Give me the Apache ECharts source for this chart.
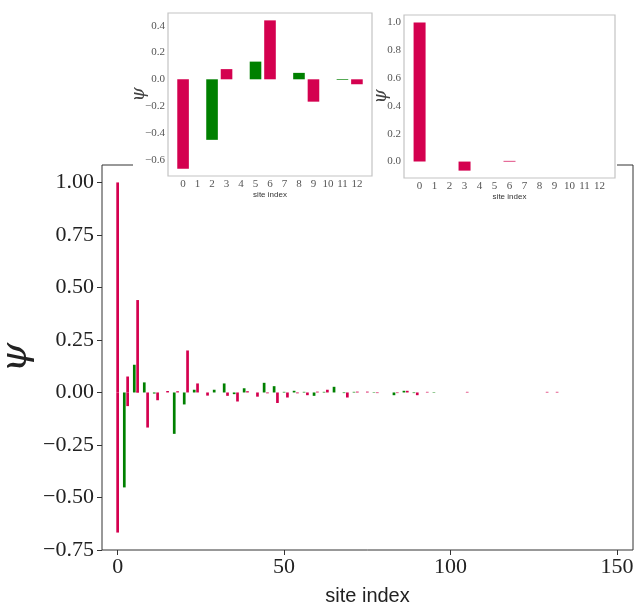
<!DOCTYPE html>
<html>
<head>
<meta charset="utf-8">
<script src="https://cdn.jsdelivr.net/npm/echarts@6/dist/echarts.min.js"></script>
<style>
  html, body { margin: 0; padding: 0; background: #fff; }
  #chart { width: 636px; height: 603px; }
</style>
</head>
<body>
<div id="chart"></div>
<script>
// state A: amplitude on each site (sites 1 mod 3 are zero)
const sitesA = [0, 2, 3, 5, 6, 8, 9, 11, 12, 15, 17, 18, 20, 21, 23, 24, 27, 29, 32, 33, 35, 36, 38, 39,
  42, 44, 45, 47, 48, 50, 51, 53, 54, 56, 57, 59, 60, 62, 63, 65, 68, 69, 71, 72, 75, 77, 78,
  83, 84, 86, 87, 89, 90, 93, 95, 105, 129, 132]
const psiA = [-0.667, -0.452, 0.076, 0.132, 0.44, 0.048, -0.167, -0.005, -0.037, 0.007, -0.197, 0.006, -0.057, 0.2, 0.013, 0.043, -0.015, 0.013, 0.043, -0.016, -0.008, -0.043, 0.02, 0.006,
  -0.02, 0.046, -0.004, 0.03, -0.05, 0.003, -0.024, 0.008, -0.004, 0.003, -0.013, -0.016, 0.004, 0.003, 0.013, 0.027, -0.003, -0.024, 0.003, 0.004, 0.004, 0.002, -0.003,
  -0.013, -0.003, 0.008, 0.008, -0.003, -0.013, 0.003, -0.002, 0.003, 0.003, 0.003]

// state B
const sitesB = [0, 3, 6]
const psiB = [1.0, -0.065, 0.005]

const mainXTicks = [0, 50, 100, 150]
const mainYTicks = [-0.75, -0.5, -0.25, 0, 0.25, 0.5, 0.75, 1.0]
const insetSites = [0, 1, 2, 3, 4, 5, 6, 7, 8, 9, 10, 11, 12]
const insetAYTicks = [-0.6, -0.4, -0.2, 0, 0.2, 0.4]
const insetBYTicks = [0, 0.2, 0.4, 0.6, 0.8, 1.0]

const CRIMSON = '#d4004f'
const GREEN = '#008000'
const SERIF = '"Liberation Serif", "DejaVu Serif", serif'
const SANS = '"Liberation Sans", Arial, sans-serif'

function siteColor(s) {
  return s % 3 === 2 ? GREEN : CRIMSON
}

function items(sites, values, maxSite) {
  const out = []
  sites.forEach((s, i) => {
    if (maxSite == null || s <= maxSite) {
      out.push({ value: [s, values[i]], itemStyle: { color: siteColor(s) } })
    }
  })
  return out
}

function fmt(digits) {
  return v => (v < -1e-9 ? '\u2212' : '') + Math.abs(v).toFixed(digits)
}

const chart = echarts.init(document.getElementById('chart'), null, { renderer: 'canvas' })

function insetX(gridIndex) {
  return {
    type: 'value', gridIndex, min: -1.04, max: 13.04, z: 12,
    axisLine: { show: false, onZero: false },
    axisTick: { show: false },
    splitLine: { show: false },
    axisLabel: { customValues: insetSites, fontFamily: SERIF, fontSize: 11, color: '#555', margin: 3 },
    name: 'site index', nameLocation: 'middle', nameGap: 15, nameMoveOverlap: false,
    nameTextStyle: { fontFamily: SANS, fontSize: 8, color: '#333' }
  }
}

function insetY(gridIndex, min, max, ticks, gap) {
  return {
    type: 'value', gridIndex, min, max, z: 12,
    axisLine: { show: false, onZero: false },
    axisTick: { show: false },
    splitLine: { show: false },
    axisLabel: { customValues: ticks, formatter: fmt(1), fontFamily: SERIF, fontSize: 11, color: '#555', margin: 3 },
    name: 'ψ', nameLocation: 'middle', nameGap: gap, nameRotate: 90, nameMoveOverlap: false,
    nameTextStyle: { fontFamily: '"DejaVu Serif", serif', fontStyle: 'italic', fontSize: 18, color: '#444' }
  }
}

chart.setOption({
  animation: false,
  backgroundColor: '#fff',
  grid: [
    { left: 102, top: 165, width: 531, height: 385, show: true, z: 0, outerBoundsMode: 'none', containLabel: false,
      borderColor: '#333', borderWidth: 1, backgroundColor: 'transparent' },
    { left: 168, top: 13, width: 204, height: 163, show: true, z: 11, outerBoundsMode: 'none', containLabel: false,
      borderColor: '#c4c4c4', borderWidth: 1.2, backgroundColor: '#fff' },
    { left: 404, top: 15, width: 211, height: 163, show: true, z: 11, outerBoundsMode: 'none', containLabel: false,
      borderColor: '#c4c4c4', borderWidth: 1.2, backgroundColor: '#fff' }
  ],
  graphic: [
    { type: 'rect', z: 10, shape: { x: 133, y: 0, width: 484, height: 205 }, style: { fill: '#fff' } }
  ],
  xAxis: [
    {
      type: 'value', gridIndex: 0, min: -4.7, max: 154.8,
      axisLine: { show: false, onZero: false },
      axisTick: { show: true, customValues: mainXTicks, length: 5, lineStyle: { color: '#333' } },
      splitLine: { show: false },
      axisLabel: { customValues: mainXTicks, fontFamily: SERIF, fontSize: 22, color: '#222', margin: 6 },
      name: 'site index', nameLocation: 'middle', nameGap: 36, nameMoveOverlap: false,
      nameTextStyle: { fontFamily: SANS, fontSize: 20, color: '#222' }
    },
    insetX(1),
    insetX(2)
  ],
  yAxis: [
    {
      type: 'value', gridIndex: 0, min: -0.75, max: 1.083,
      axisLine: { show: false, onZero: false },
      axisTick: { show: true, customValues: mainYTicks, length: 5, lineStyle: { color: '#333' } },
      splitLine: { show: false },
      axisLabel: { customValues: mainYTicks, formatter: fmt(2), fontFamily: SERIF, fontSize: 22, color: '#222', margin: 8 },
      name: 'ψ', nameLocation: 'middle', nameGap: 67, nameRotate: 90, nameMoveOverlap: false,
      nameTextStyle: { fontFamily: '"DejaVu Serif", serif', fontStyle: 'italic', fontSize: 38, color: '#222' }
    },
    insetY(1, -0.722, 0.495, insetAYTicks, 20),
    insetY(2, -0.118, 1.053, insetBYTicks, 14)
  ],
  series: [
    {
      type: 'bar', xAxisIndex: 0, yAxisIndex: 0, z: 2, barWidth: 2.7, barGap: '-100%',
      data: items(sitesA, psiA).concat(items(sitesB, psiB))
    },
    {
      type: 'bar', xAxisIndex: 1, yAxisIndex: 1, z: 13, barWidth: 11.6, barGap: '-100%',
      data: items(sitesA, psiA, 12)
    },
    {
      type: 'bar', xAxisIndex: 2, yAxisIndex: 2, z: 13, barWidth: 12, barGap: '-100%',
      data: items(sitesB, psiB, 12)
    }
  ]
})
</script>
</body>
</html>
